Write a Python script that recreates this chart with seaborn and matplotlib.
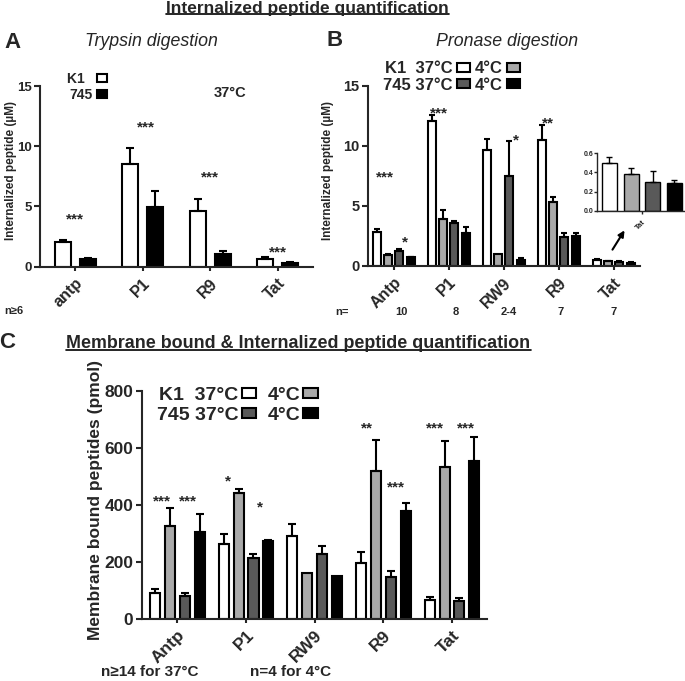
import matplotlib.pyplot as plt
import numpy as np
import pandas as pd
import seaborn as sns
from matplotlib.lines import Line2D
from matplotlib.patches import FancyArrowPatch
from matplotlib.transforms import ScaledTranslation

# Panel A - trypsin digestion at 37°C
peptides_a = ['antp', 'P1', 'R9', 'Tat']
k1_a = [2.05, 8.5, 4.65, 0.65]
k1_a_err = [0.15, 1.35, 0.95, 0.12]
c745_a = [0.67, 4.95, 1.05, 0.32]
c745_a_err = [0.05, 1.3, 0.25, 0.04]

# Panel B - pronase digestion
peptides_b = ['Antp', 'P1', 'RW9', 'R9', 'Tat']
k1_37_b = [2.8, 12.05, 9.65, 10.5, 0.50]
k1_37_b_err = [0.25, 0.55, 0.95, 1.25, 0.06]
k1_4_b = [0.92, 3.95, 1.0, 5.35, 0.38]
k1_4_b_err = [0.06, 0.72, 0.0, 0.42, 0.07]
c745_37_b = [1.25, 3.62, 7.5, 2.4, 0.30]
c745_37_b_err = [0.17, 0.1, 2.9, 0.33, 0.11]
c745_4_b = [0.72, 2.78, 0.48, 2.5, 0.29]
c745_4_b_err = [0.04, 0.45, 0.22, 0.28, 0.03]
n_b = ['10', '8', '2-4', '7', '7']

# Panel C - membrane bound & internalized
peptides_c = ['Antp', 'P1', 'RW9', 'R9', 'Tat']
k1_37_c = [90, 263, 290, 195, 65]
k1_37_c_err = [13, 34, 42, 38, 10]
k1_4_c = [327, 440, 159, 520, 533]
k1_4_c_err = [62, 14, 0, 107, 92]
c745_37_c = [80, 214, 227, 147, 63]
c745_37_c_err = [9, 12, 29, 21, 10]
c745_4_c = [303, 272, 150, 379, 553]
c745_4_c_err = [65, 3, 0, 28, 83]

conditions = ['K1 37°C', 'K1 4°C', '745 37°C', '745 4°C']
colors = ['white', '#a9a9a9', '#595959', 'black']

# significance marks: (group, shift, height, text)
stars_a = [(0, 0, 4.3, '***'), (1, 0.05, 12.0, '***'), (2, 0, 7.8, '***'), (3, 0, 1.6, '***')]
stars_b = [(0, -0.17, 7.8, '***'), (0, 0.2, 2.4, '*'), (1, -0.17, 13.1, '***'),
           (2, 0.22, 10.9, '*'), (3, -0.2, 12.25, '**')]
stars_c = [(0, -0.23, 430, '***'), (0, 0.16, 430, '***'), (1, -0.27, 498, '*'),
           (1, 0.21, 407, '*'), (3, -0.24, 683, '**'), (3, 0.18, 477, '***'),
           (4, -0.25, 683, '***'), (4, 0.21, 683, '***')]

sns.set_style('ticks')
plt.rcParams['font.family'] = ['Liberation Sans', 'DejaVu Sans']
plt.rcParams['font.weight'] = 'bold'
plt.rcParams['axes.labelweight'] = 'bold'
plt.rcParams['axes.linewidth'] = 1.5

W, H = 685, 681
fig = plt.figure(figsize=(W / 100, H / 100), dpi=100)


def box(l, t, r, b):
    return [l / W, 1 - b / H, (r - l) / W, (b - t) / H]


def ftext(x, y, s, **kw):
    return fig.text(x / W, 1 - y / H, s, **kw)


def bar_panel(ax, cats, series, errs, labels, pal, width, gap, lw=1.5, cap=3):
    df = pd.DataFrame({
        'peptide': [c for _ in labels for c in cats],
        'cond': [n for n in labels for _ in cats],
        'value': [v for s in series for v in s],
    })
    sns.barplot(data=df, x='peptide', y='value', hue='cond', order=cats, hue_order=labels,
                palette=pal, width=width, gap=gap, edgecolor='black', linewidth=lw,
                errorbar=None, ax=ax)
    for bars, err in zip(list(ax.containers), errs):
        xs = np.array([b.get_x() + b.get_width() / 2 for b in bars])
        ys = np.array([b.get_height() for b in bars])
        e = np.array(err, dtype=float)
        keep = e > 0
        ax.errorbar(xs[keep], ys[keep], yerr=[np.zeros(keep.sum()), e[keep]], fmt='none',
                    ecolor='black', elinewidth=lw, capsize=cap, capthick=lw)
    ax.set_xlabel('')
    sns.despine(ax=ax)
    for s in ['left', 'bottom']:
        ax.spines[s].set_linewidth(lw)
    ax.tick_params(axis='y', length=4, width=lw)
    ax.tick_params(axis='x', length=3, width=lw)


def add_stars(ax, stars, size):
    tr = ax.transData + ScaledTranslation(0, -0.58 * size / 72, fig.dpi_scale_trans)
    for g, dx, h, s in stars:
        ax.text(g + dx, h, s, ha='center', va='baseline', fontsize=size, transform=tr)


# ---- Panel A
ax_a = fig.add_axes(box(40, 86, 313, 266.7))
bar_panel(ax_a, peptides_a, [k1_a, c745_a], [k1_a_err, c745_a_err], ['K1', '745'],
          ['white', 'black'], 0.74, 0.36, cap=3.2)
ax_a.set_ylim(0, 15)
ax_a.set_xlim(-0.52, 3.52)
ax_a.set_yticks([0, 5, 10, 15])
ax_a.tick_params(axis='y', labelsize=9.5, pad=2)
ax_a.set_xticks(range(len(peptides_a)))
ax_a.set_xticklabels(peptides_a, rotation=45, ha='right', rotation_mode='anchor', fontsize=11.5)
ax_a.set_ylabel('Internalized peptide (µM)', fontsize=8.5)
ax_a.yaxis.set_label_coords(-0.085, 0.53)
add_stars(ax_a, stars_a, 11)
h, l = ax_a.get_legend_handles_labels()
ax_a.legend(h, ['K1  ', '745'], loc='upper left', bbox_to_anchor=(67 / W, 1 - 72 / H),
            bbox_transform=fig.transFigure, frameon=False, markerfirst=False, fontsize=10,
            handlelength=0.75, handleheight=0.45, handletextpad=0.3, labelspacing=0.15,
            borderpad=0, borderaxespad=0)
ftext(230, 93, '37°C', fontsize=10.5, ha='center', va='center')

# ---- Panel B
ax_b = fig.add_axes(box(368, 86, 640, 266))
bar_panel(ax_b, peptides_b, [k1_37_b, k1_4_b, c745_37_b, c745_4_b],
          [k1_37_b_err, k1_4_b_err, c745_37_b_err, c745_4_b_err], conditions, colors,
          0.82, 0.29, cap=2.5)
ax_b.set_ylim(0, 15)
ax_b.set_xlim(-0.47, 4.48)
ax_b.set_yticks([0, 5, 10, 15])
ax_b.tick_params(axis='y', labelsize=10.5, pad=2)
ax_b.set_xticks(range(len(peptides_b)))
ax_b.set_xticklabels(peptides_b, rotation=45, ha='right', rotation_mode='anchor', fontsize=11.5)
ax_b.set_ylabel('Internalized peptide (µM)', fontsize=8.5)
ax_b.yaxis.set_label_coords(-0.125, 0.53)
add_stars(ax_b, stars_b, 11)
h, l = ax_b.get_legend_handles_labels()
ax_b.legend([h[0], h[2], h[1], h[3]], ['K1  37°C', '745 37°C', '4°C', '4°C'], ncol=2,
            loc='upper left', bbox_to_anchor=(383 / W, 1 - 61 / H),
            bbox_transform=fig.transFigure, frameon=False, markerfirst=False, fontsize=12,
            handlelength=0.8, handleheight=0.45, handletextpad=0.25, labelspacing=0.1,
            columnspacing=0.3, borderpad=0, borderaxespad=0)

# inset for Tat
ax_in = fig.add_axes(box(597.3, 153.3, 685, 210.7))
bar_panel(ax_in, ['Tat'], [[k1_37_b[4]], [k1_4_b[4]], [c745_37_b[4]], [c745_4_b[4]]],
          [[k1_37_b_err[4]], [k1_4_b_err[4]], [c745_37_b_err[4]], [c745_4_b_err[4]]],
          conditions, colors, 0.8, 0.3, lw=1.0, cap=2)
if ax_in.legend_:
    ax_in.legend_.remove()
ax_in.set_ylim(0, 0.6)
ax_in.set_xlim(-0.413, 0.40)
ax_in.set_yticks([0, 0.2, 0.4, 0.6])
ax_in.set_yticklabels(['0.0', '0.2', '0.4', '0.6'])
ax_in.set_ylabel('')
ax_in.tick_params(axis='y', labelsize=5, length=2, pad=1)
ax_in.tick_params(axis='x', length=2)
ax_in.set_xticks([0])
ax_in.set_xticklabels(['Tat'], rotation=45, ha='right', rotation_mode='anchor', fontsize=5.5)
fig.add_artist(FancyArrowPatch((611 / W, 1 - 252 / H), (626 / W, 1 - 228 / H),
                               transform=fig.transFigure, arrowstyle='-|>',
                               mutation_scale=9, lw=1.5, color='black'))

# ---- Panel C
ax_c = fig.add_axes(box(141.7, 390.7, 487, 618.7))
bar_panel(ax_c, peptides_c, [k1_37_c, k1_4_c, c745_37_c, c745_4_c],
          [k1_37_c_err, k1_4_c_err, c745_37_c_err, c745_4_c_err], conditions, colors,
          0.864, 0.32, cap=3)
ax_c.set_ylim(0, 800)
ax_c.set_xlim(-0.52, 4.51)
ax_c.set_yticks([0, 200, 400, 600, 800])
ax_c.tick_params(axis='y', labelsize=12.5, pad=2)
ax_c.set_xticks(range(len(peptides_c)))
ax_c.set_xticklabels(peptides_c, rotation=45, ha='right', rotation_mode='anchor', fontsize=12.5)
ax_c.set_ylabel('Membrane bound peptides (pmol)', fontsize=12.5)
ax_c.yaxis.set_label_coords(-0.112, 0.52)
add_stars(ax_c, stars_c, 11)
h, l = ax_c.get_legend_handles_labels()
ax_c.legend([h[0], h[2], h[1], h[3]], ['K1  37°C', '745 37°C', '4°C', '4°C'], ncol=2,
            loc='upper left', bbox_to_anchor=(157 / W, 1 - 387 / H),
            bbox_transform=fig.transFigure, frameon=False, markerfirst=False, fontsize=14,
            handlelength=0.75, handleheight=0.45, handletextpad=0.15, labelspacing=0.15,
            columnspacing=0.6, borderpad=0, borderaxespad=0)

# ---- figure texts
top_title = ftext(307.5, 8, 'Internalized peptide quantification', fontsize=12.5,
                  ha='center', va='center')
ftext(4, 42, 'A', fontsize=16, ha='left', va='center')
ftext(335, 40, 'B', fontsize=16, ha='center', va='center')
ftext(7, 342, 'C', fontsize=16, ha='center', va='center')
ftext(151, 42, 'Trypsin digestion', fontsize=12.8, style='italic', weight='normal',
      ha='center', va='center')
ftext(507, 42, 'Pronase digestion', fontsize=12.8, style='italic', weight='normal',
      ha='center', va='center')
c_title = ftext(298.5, 343, 'Membrane bound & Internalized peptide quantification',
                fontsize=12.9, ha='center', va='center')
ftext(14, 311, 'n≥6', fontsize=8, ha='center', va='center')
ftext(342, 312, 'n=', fontsize=8, ha='center', va='center')
for x, s in zip([401, 456, 509, 561, 614], n_b):
    ftext(x, 312, s, fontsize=8, ha='center', va='center')
ftext(150, 672, 'n≥14 for 37°C', fontsize=11, ha='center', va='center')
ftext(291, 672, 'n=4 for 4°C', fontsize=11, ha='center', va='center')

# underline the two headings
fig.canvas.draw()
rend = fig.canvas.get_renderer()
for t in [top_title, c_title]:
    bb = t.get_window_extent(rend)
    y = (bb.y0 + 1.5) / fig.bbox.height
    fig.add_artist(Line2D([bb.x0 / fig.bbox.width, bb.x1 / fig.bbox.width], [y, y],
                          transform=fig.transFigure, color='black', lw=1.2))

fig.savefig('out.png', dpi=100)
